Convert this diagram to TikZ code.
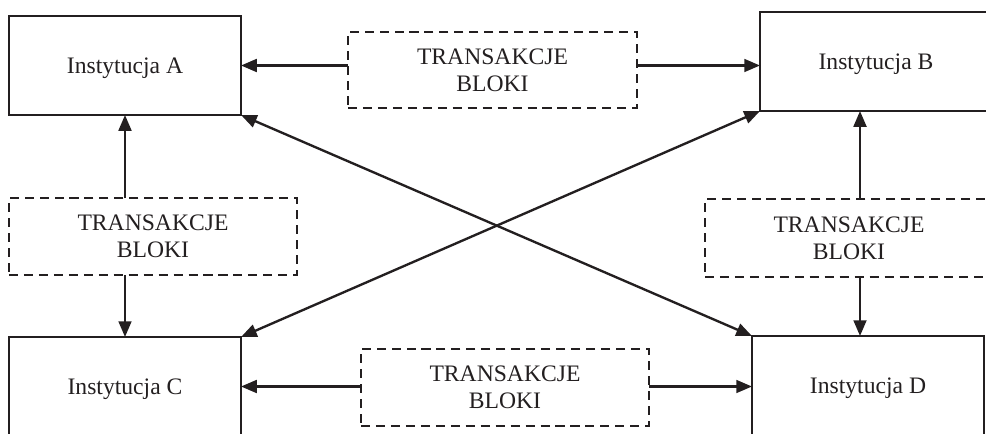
\documentclass[tikz,border=0pt]{standalone}
\usepackage{fontspec}
\setmainfont{Liberation Serif}
\usetikzlibrary{arrows.meta}
\definecolor{ink}{RGB}{35,31,32}

\begin{document}
\begin{tikzpicture}[x=0.508pt, y=-0.508pt, color=ink,
    inst/.style={draw, line width=1.2pt, minimum width=232*0.508pt, minimum height=99*0.508pt, inner sep=0pt, outer sep=0pt, text height=11pt, text depth=2.7pt, font=\fontsize{12}{13.8}\selectfont},
    flow/.style={draw, line width=1.2pt, dash pattern=on 4.6pt off 3pt, minimum width=288*0.508pt, minimum height=77*0.508pt, inner sep=0pt, outer sep=0pt, align=center, font=\fontsize{12}{13.8}\selectfont},
    link/.style={line width=1.2pt, -{Triangle[length=8pt, width=6.5pt]}},
    both/.style={line width=1.2pt, {Triangle[length=8pt, width=6.5pt]}-{Triangle[length=8pt, width=6.5pt]}}]
             \useasboundingbox (0,0) rectangle (986,433);
             % institutions
             \node[inst] (instA) at (125,65.5) {Instytucja A};
             \node[inst] (instB) at (876,61.5) {Instytucja B};
             \node[inst] (instC) at (125,386.5) {Instytucja C};
             \node[inst] (instD) at (868,385.5) {Instytucja D};
             % transactions / blocks
             \node[flow, minimum width=289*0.508pt, minimum height=76*0.508pt] (flowAB) at (492.5,70) {TRANSAKCJE\\BLOKI};
             \node[flow] (flowAC) at (153,236.5) {TRANSAKCJE\\BLOKI};
             \node[flow, minimum height=78*0.508pt] (flowBD) at (849,238) {TRANSAKCJE\\BLOKI};
             \node[flow] (flowCD) at (505,387.5) {TRANSAKCJE\\BLOKI};
             \coordinate (colBD) at (860,0);
             % connections
             \draw[link] (flowAB.west |- instA.east) -- (instA.east);
             \draw[link] (flowAB.east |- instA.east) -- (instB.west |- instA.east);
             \draw[link] (flowCD.west |- instC.east) -- (instC.east);
             \draw[link] (flowCD.east |- instC.east) -- (instD.west |- instC.east);
             \draw[link] (instA.south |- flowAC.north) -- (instA.south);
             \draw[link] (instC.north |- flowAC.south) -- (instC.north);
             \draw[link] (colBD |- flowBD.north) -- (colBD |- instB.south);
             \draw[link] (colBD |- flowBD.south) -- (colBD |- instD.north);
             \draw[both] (instA.south east) -- (instD.north west);
             \draw[both] (instC.north east) -- (instB.south west);
         \end{tikzpicture}
\end{document}
